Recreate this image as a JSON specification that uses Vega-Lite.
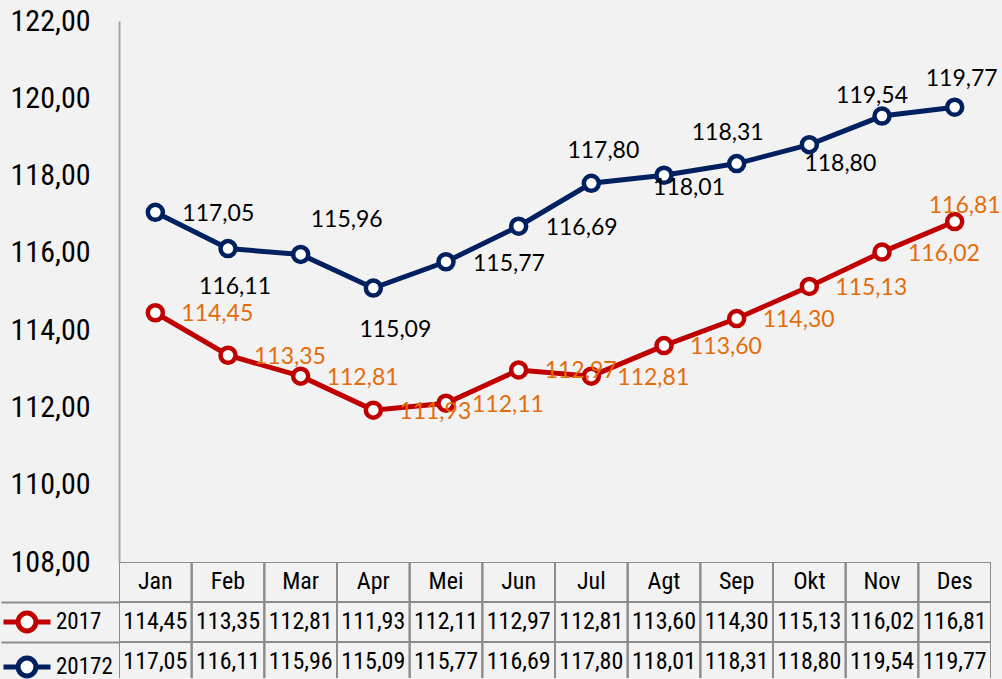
{
  "$schema": "https://vega.github.io/schema/vega-lite/v6.json",
  "background": "#f2f2f2",
  "padding": {"left": 0, "top": 6, "right": 2, "bottom": 0},
  "bounds": "flush",
  "spacing": 0,
  "data": {"values": [
    {"month": "Jan", "series": "2017", "value": 114.45},
    {"month": "Feb", "series": "2017", "value": 113.35},
    {"month": "Mar", "series": "2017", "value": 112.81},
    {"month": "Apr", "series": "2017", "value": 111.93},
    {"month": "Mei", "series": "2017", "value": 112.11},
    {"month": "Jun", "series": "2017", "value": 112.97},
    {"month": "Jul", "series": "2017", "value": 112.81},
    {"month": "Agt", "series": "2017", "value": 113.60},
    {"month": "Sep", "series": "2017", "value": 114.30},
    {"month": "Okt", "series": "2017", "value": 115.13},
    {"month": "Nov", "series": "2017", "value": 116.02},
    {"month": "Des", "series": "2017", "value": 116.81},
    {"month": "Jan", "series": "20172", "value": 117.05},
    {"month": "Feb", "series": "20172", "value": 116.11},
    {"month": "Mar", "series": "20172", "value": 115.96},
    {"month": "Apr", "series": "20172", "value": 115.09},
    {"month": "Mei", "series": "20172", "value": 115.77},
    {"month": "Jun", "series": "20172", "value": 116.69},
    {"month": "Jul", "series": "20172", "value": 117.80},
    {"month": "Agt", "series": "20172", "value": 118.01},
    {"month": "Sep", "series": "20172", "value": 118.31},
    {"month": "Okt", "series": "20172", "value": 118.80},
    {"month": "Nov", "series": "20172", "value": 119.54},
    {"month": "Des", "series": "20172", "value": 119.77}
  ]},
  "resolve": {"scale": {"x": "independent", "y": "independent"}},
  "vconcat": [
    {
      "width": 872,
      "height": 541,
      "encoding": {
        "x": {"field": "month", "type": "nominal", "sort": ["Jan","Feb","Mar","Apr","Mei","Jun","Jul","Agt","Sep","Okt","Nov","Des"], "scale": {"type": "point", "padding": 0.5}, "axis": null},
        "y": {"field": "value", "type": "quantitative", "scale": {"domain": [108, 122], "nice": false, "zero": false},
          "axis": {"values": [108,110,112,114,116,118,120,122], "format": ".2f", "labelFont": "Roboto Condensed", "labelFontSize": 30, "labelColor": "#000000", "labelPadding": 29, "ticks": false, "grid": false, "domainColor": "#a6a6a6", "domainWidth": 2, "title": null}}
      },
      "layer": [
        {"mark": {"type": "line", "strokeWidth": 5},
         "encoding": {"color": {"field": "series", "type": "nominal", "scale": {"domain": ["2017","20172"], "range": ["#C00000","#002060"]},
           "legend": {"orient": "none", "legendX": -118, "legendY": 575, "title": null, "direction": "vertical",
             "symbolType": "M-1,0H-0.38M0.38,0H1M-0.38,0A0.38,0.38,0,1,1,0.38,0A0.38,0.38,0,1,1,-0.38,0Z",
             "symbolSize": 2209, "symbolStrokeWidth": 5, "symbolFillColor": "white",
             "labelFont": "Roboto Condensed", "labelFontSize": 23, "labelColor": "#000000", "labelOffset": 3, "rowPadding": -10, "padding": 0}}}},
        {"mark": {"type": "point", "shape": "circle", "filled": false, "fill": "white", "fillOpacity": 1, "opacity": 1, "size": 225, "strokeWidth": 4.5},
         "encoding": {"color": {"field": "series", "type": "nominal"}}},
        {"transform": [{"filter": "datum.series == '2017' && datum.month != 'Des'"}],
         "mark": {"type": "text", "align": "left", "baseline": "middle", "dx": 26, "dy": 1.5, "font": "Lato", "fontSize": 23, "fill": "#E46C0A"},
         "encoding": {"text": {"field": "value", "type": "quantitative", "format": ".2f"}}},
        {"transform": [{"filter": "datum.series == '2017' && datum.month == 'Des'"}],
         "mark": {"type": "text", "align": "center", "baseline": "middle", "dx": 10, "dy": -16, "font": "Lato", "fontSize": 23, "fill": "#E46C0A"},
         "encoding": {"text": {"field": "value", "type": "quantitative", "format": ".2f"}}},
        {"transform": [{"filter": "datum.series == '20172' && indexof(['Jan','Mei','Jun'], datum.month) >= 0"}],
         "mark": {"type": "text", "align": "left", "baseline": "middle", "dx": 27, "dy": 2, "font": "Lato", "fontSize": 23, "fill": "#000000"},
         "encoding": {"text": {"field": "value", "type": "quantitative", "format": ".2f"}}},
        {"transform": [{"filter": "datum.series == '20172' && datum.month == 'Feb'"}],
         "mark": {"type": "text", "align": "center", "baseline": "middle", "dx": 7, "dy": 38, "font": "Lato", "fontSize": 23, "fill": "#000000"},
         "encoding": {"text": {"field": "value", "type": "quantitative", "format": ".2f"}}},
        {"transform": [{"filter": "datum.series == '20172' && datum.month == 'Mar'"}],
         "mark": {"type": "text", "align": "center", "baseline": "middle", "dx": 46, "dy": -34, "font": "Lato", "fontSize": 23, "fill": "#000000"},
         "encoding": {"text": {"field": "value", "type": "quantitative", "format": ".2f"}}},
        {"transform": [{"filter": "datum.series == '20172' && datum.month == 'Apr'"}],
         "mark": {"type": "text", "align": "center", "baseline": "middle", "dx": 22, "dy": 42, "font": "Lato", "fontSize": 23, "fill": "#000000"},
         "encoding": {"text": {"field": "value", "type": "quantitative", "format": ".2f"}}},
        {"transform": [{"filter": "datum.series == '20172' && datum.month == 'Jul'"}],
         "mark": {"type": "text", "align": "center", "baseline": "middle", "dx": 12, "dy": -32, "font": "Lato", "fontSize": 23, "fill": "#000000"},
         "encoding": {"text": {"field": "value", "type": "quantitative", "format": ".2f"}}},
        {"transform": [{"filter": "datum.series == '20172' && datum.month == 'Agt'"}],
         "mark": {"type": "text", "align": "center", "baseline": "middle", "dx": 25, "dy": 13, "font": "Lato", "fontSize": 23, "fill": "#000000"},
         "encoding": {"text": {"field": "value", "type": "quantitative", "format": ".2f"}}},
        {"transform": [{"filter": "datum.series == '20172' && datum.month == 'Sep'"}],
         "mark": {"type": "text", "align": "center", "baseline": "middle", "dx": -9, "dy": -31, "font": "Lato", "fontSize": 23, "fill": "#000000"},
         "encoding": {"text": {"field": "value", "type": "quantitative", "format": ".2f"}}},
        {"transform": [{"filter": "datum.series == '20172' && datum.month == 'Okt'"}],
         "mark": {"type": "text", "align": "center", "baseline": "middle", "dx": 31, "dy": 19, "font": "Lato", "fontSize": 23, "fill": "#000000"},
         "encoding": {"text": {"field": "value", "type": "quantitative", "format": ".2f"}}},
        {"transform": [{"filter": "datum.series == '20172' && datum.month == 'Nov'"}],
         "mark": {"type": "text", "align": "center", "baseline": "middle", "dx": -10, "dy": -20, "font": "Lato", "fontSize": 23, "fill": "#000000"},
         "encoding": {"text": {"field": "value", "type": "quantitative", "format": ".2f"}}},
        {"transform": [{"filter": "datum.series == '20172' && datum.month == 'Des'"}],
         "mark": {"type": "text", "align": "center", "baseline": "middle", "dx": 7, "dy": -28, "font": "Lato", "fontSize": 23, "fill": "#000000"},
         "encoding": {"text": {"field": "value", "type": "quantitative", "format": ".2f"}}}
      ]
    },
    {
      "width": 872,
      "height": 116,
      "encoding": {
        "x": {"field": "month", "type": "nominal", "sort": ["Jan","Feb","Mar","Apr","Mei","Jun","Jul","Agt","Sep","Okt","Nov","Des"], "scale": {"type": "band", "paddingInner": 0, "paddingOuter": 0}, "axis": null}
      },
      "layer": [
        {"transform": [{"filter": "datum.series == '2017'"}],
         "mark": {"type": "rect", "fill": "transparent", "stroke": "#8c8c8c", "strokeWidth": 2, "clip": true},
         "encoding": {"y": {"datum": "hdr", "type": "nominal", "scale": {"domain": ["hdr","2017","20172"], "range": [0, 120], "paddingInner": 0, "paddingOuter": 0},
           "axis": {"values": ["2017","20172"], "bandPosition": 0, "tickSize": 118, "tickColor": "#8c8c8c", "tickWidth": 2, "labels": false, "domain": false, "grid": false, "title": null}}}},
        {"mark": {"type": "rect", "fill": "transparent", "stroke": "#8c8c8c", "strokeWidth": 2, "clip": true},
         "encoding": {"y": {"field": "series", "type": "nominal",
           "axis": {"values": ["2017","20172"], "bandPosition": 0, "tickSize": 118, "tickColor": "#8c8c8c", "tickWidth": 2, "labels": false, "domain": false, "grid": false, "title": null}}}},
        {"transform": [{"filter": "datum.series == '2017'"}],
         "mark": {"type": "text", "align": "center", "baseline": "middle", "font": "Roboto Condensed", "fontSize": 24, "fill": "#000000", "clip": true},
         "encoding": {"y": {"datum": "hdr", "type": "nominal",
           "axis": {"values": ["2017","20172"], "bandPosition": 0, "tickSize": 118, "tickColor": "#8c8c8c", "tickWidth": 2, "labels": false, "domain": false, "grid": false, "title": null}},
           "text": {"field": "month", "type": "nominal"}}},
        {"mark": {"type": "text", "align": "center", "baseline": "middle", "font": "Roboto Condensed", "fontSize": 24, "fill": "#000000", "clip": true},
         "encoding": {"y": {"field": "series", "type": "nominal",
           "axis": {"values": ["2017","20172"], "bandPosition": 0, "tickSize": 118, "tickColor": "#8c8c8c", "tickWidth": 2, "labels": false, "domain": false, "grid": false, "title": null}},
           "text": {"field": "value", "type": "quantitative", "format": ".2f"}}}
      ]
    }
  ],
  "config": {
    "view": {"stroke": null},
    "font": "Liberation Sans",
    "locale": {"number": {"decimal": ",", "thousands": ".", "grouping": [3], "currency": ["", ""]}}
  }
}
